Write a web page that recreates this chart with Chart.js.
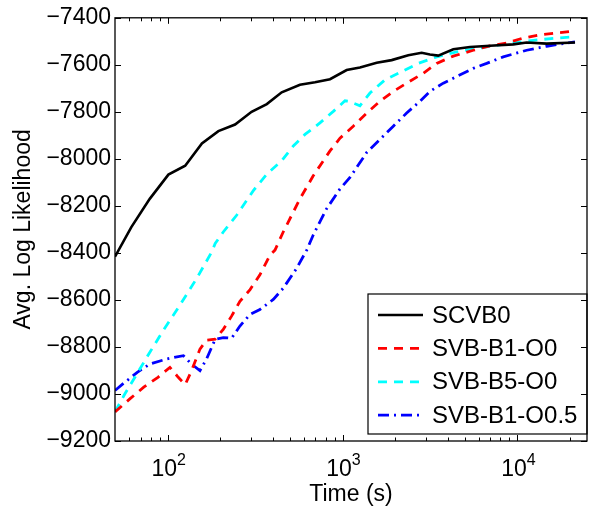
<!DOCTYPE html>
<html>
<head>
<meta charset="utf-8">
<script src="https://cdn.jsdelivr.net/npm/chart.js@4.4.1/dist/chart.umd.min.js"></script>
<style>
html,body{margin:0;padding:0;background:#ffffff;}
#wrap{width:594px;height:508px;}
</style>
</head>
<body>
<div id="wrap"><canvas id="c" width="594" height="508"></canvas></div>
<script>
// ---- data ----
const seriesLabels = ['SCVB0', 'SVB-B1-O0', 'SVB-B5-O0', 'SVB-B1-O0.5'];

const scvb0Time = [50, 62, 79, 101, 126, 157, 195, 243, 302, 369, 449, 571, 696, 848, 1056, 1258, 1568, 1910, 2377, 2834, 3162, 3526, 4299, 5355, 6966, 9468, 11297, 14700, 21340];
const scvb0LL   = [-8416, -8290, -8170, -8067, -8029, -7934, -7882, -7854, -7800, -7767, -7717, -7685, -7674, -7661, -7622, -7611, -7591, -7580, -7559, -7549, -7556, -7561, -7534, -7524, -7519, -7513, -7505, -7510, -7505];

const svbB1O0Time = [50, 61, 73, 88, 103, 115, 126, 137, 153, 167, 187, 208, 232, 259, 296, 337, 385, 411, 458, 571, 680, 848, 967, 1152, 1375, 1637, 1951, 2327, 2895, 3454, 4299, 5594, 6966, 8680, 10800, 13460, 16765, 21340];
const svbB1O0LL   = [-9076, -9020, -8971, -8929, -8887, -8929, -8960, -8901, -8809, -8771, -8767, -8725, -8669, -8606, -8556, -8493, -8409, -8388, -8311, -8170, -8072, -7966, -7912, -7861, -7805, -7755, -7713, -7678, -7636, -7594, -7563, -7538, -7519, -7507, -7486, -7472, -7465, -7456];

const svbB5O0Time = [50, 57, 65, 78, 94, 118, 147, 179, 187, 208, 248, 309, 369, 449, 523, 610, 743, 886, 1033, 1088, 1258, 1435, 1749, 2179, 2711, 3454, 4494, 6378, 8680, 12325, 16765, 21340];
const svbB5O0LL   = [-9076, -8999, -8929, -8830, -8732, -8620, -8507, -8395, -8360, -8311, -8240, -8135, -8065, -8008, -7945, -7896, -7847, -7798, -7753, -7755, -7774, -7720, -7664, -7629, -7594, -7566, -7545, -7526, -7510, -7496, -7486, -7481];

const svbB1O05Time = [50, 57, 67, 79, 99, 123, 137, 153, 167, 187, 208, 232, 259, 296, 337, 402, 458, 547, 624, 680, 811, 967, 1103, 1375, 1637, 1951, 2327, 2771, 3162, 3769, 4494, 5594, 6671, 8300, 11297, 14700, 21340];
const svbB1O05LL   = [-8985, -8950, -8908, -8873, -8851, -8837, -8873, -8901, -8851, -8767, -8760, -8763, -8711, -8662, -8641, -8598, -8550, -8465, -8388, -8324, -8212, -8128, -8079, -7973, -7917, -7861, -7805, -7755, -7713, -7678, -7650, -7615, -7594, -7566, -7538, -7521, -7502];

const yTickValues = [-9200, -9000, -8800, -8600, -8400, -8200, -8000, -7800, -7600, -7400];
const xMajorTicks = [100, 1000, 10000];
const xMinorTicks = [60, 70, 80, 90, 200, 300, 400, 500, 600, 700, 800, 900, 2000, 3000, 4000, 5000, 6000, 7000, 8000, 9000, 20000];

const FONT = 'Liberation Sans, Arial, Helvetica, sans-serif';

function pts(ts, vs) { return ts.map((t, i) => ({x: t, y: vs[i]})); }

const datasets = [
  {label: seriesLabels[0], data: pts(scvb0Time, scvb0LL), borderColor: '#000000', borderWidth: 2.6, borderDash: []},
  {label: seriesLabels[1], data: pts(svbB1O0Time, svbB1O0LL), borderColor: '#ff0000', borderWidth: 2.8, borderDash: [9, 7]},
  {label: seriesLabels[2], data: pts(svbB5O0Time, svbB5O0LL), borderColor: '#00ffff', borderWidth: 2.8, borderDash: [9, 7]},
  {label: seriesLabels[3], data: pts(svbB1O05Time, svbB1O05LL), borderColor: '#0000ff', borderWidth: 2.8, borderDash: [11, 5, 2, 5]}
].map(d => Object.assign(d, {fill: false, pointRadius: 0, pointHoverRadius: 0, tension: 0, backgroundColor: d.borderColor}));

const matlabAxes = {
  id: 'matlabAxes',
  afterDatasetsDraw(chart) {
    const {ctx, chartArea: a, scales: {x, y}} = chart;
    ctx.save();
    // legend box
    const lw = 219, lh = 140;
    const lx = a.right - lw, ly = a.bottom - 7 - lh;
    ctx.fillStyle = '#ffffff';
    ctx.fillRect(lx, ly, lw, lh);
    ctx.strokeStyle = '#000000';
    ctx.lineWidth = 1.2;
    ctx.setLineDash([]);
    ctx.strokeRect(lx, ly, lw, lh);
    chart.data.datasets.forEach((ds, i) => {
      const ry = ly + 21 + i * 33.4;
      ctx.beginPath();
      ctx.strokeStyle = ds.borderColor;
      ctx.lineWidth = ds.borderWidth;
      ctx.setLineDash(ds.borderDash || []);
      ctx.moveTo(lx + 10, ry);
      ctx.lineTo(lx + 55, ry);
      ctx.stroke();
      ctx.setLineDash([]);
      ctx.fillStyle = '#000000';
      ctx.font = '24px ' + FONT;
      ctx.textAlign = 'left';
      ctx.textBaseline = 'middle';
      ctx.fillText(ds.label, lx + 64, ry + 1);
    });

    // ticks (inward, on all four sides)
    ctx.strokeStyle = '#000000';
    ctx.lineWidth = 1;
    ctx.setLineDash([]);
    ctx.beginPath();
    yTickValues.forEach(v => {
      const py = Math.round(y.getPixelForValue(v)) + 0.5;
      ctx.moveTo(a.left, py); ctx.lineTo(a.left + 6, py);
      ctx.moveTo(a.right, py); ctx.lineTo(a.right - 6, py);
    });
    xMajorTicks.forEach(v => {
      const px = Math.round(x.getPixelForValue(v)) + 0.5;
      ctx.moveTo(px, a.bottom); ctx.lineTo(px, a.bottom - 6);
      ctx.moveTo(px, a.top); ctx.lineTo(px, a.top + 6);
    });
    xMinorTicks.forEach(v => {
      const px = Math.round(x.getPixelForValue(v)) + 0.5;
      ctx.moveTo(px, a.bottom); ctx.lineTo(px, a.bottom - 3.5);
      ctx.moveTo(px, a.top); ctx.lineTo(px, a.top + 3.5);
    });
    ctx.stroke();

    // axes box
    ctx.lineWidth = 1.3;
    ctx.strokeRect(a.left, a.top, a.right - a.left, a.bottom - a.top);

    // x tick labels 10^n
    ctx.fillStyle = '#000000';
    ctx.textBaseline = 'alphabetic';
    ctx.textAlign = 'left';
    xMajorTicks.forEach(v => {
      const px = x.getPixelForValue(v);
      const base = '10', exp = String(Math.round(Math.log10(v)));
      ctx.font = '23px ' + FONT;
      const w1 = ctx.measureText(base).width;
      ctx.font = '16px ' + FONT;
      const w2 = ctx.measureText(exp).width;
      const sx = px - (w1 + w2) / 2 + 1;
      ctx.font = '23px ' + FONT;
      ctx.fillText(base, sx, a.bottom + 35);
      ctx.font = '16px ' + FONT;
      ctx.fillText(exp, sx + w1, a.bottom + 24);
    });
    ctx.restore();
  }
};

new Chart(document.getElementById('c'), {
  type: 'line',
  data: {datasets},
  plugins: [matlabAxes],
  options: {
    responsive: false,
    devicePixelRatio: 1,
    animation: false,
    events: [],
    layout: {padding: {left: 0, right: 7, top: 14, bottom: 0}},
    plugins: {legend: {display: false}, tooltip: {enabled: false}},
    scales: {
      x: {
        type: 'logarithmic',
        min: 50,
        max: 25000,
        ticks: {display: false},
        grid: {display: false},
        border: {display: false},
        title: {display: true, text: 'Time (s)', color: '#000000', font: {family: FONT, size: 23}, padding: {top: 0, bottom: 0}},
        afterFit(s) { s.height = 67; }
      },
      y: {
        type: 'linear',
        min: -9200,
        max: -7400,
        afterBuildTicks(s) { s.ticks = yTickValues.map(v => ({value: v})); },
        ticks: {
          color: '#000000',
          font: {family: FONT, size: 23},
          padding: 4,
          callback: v => String(v).replace('-', '\u2212')
        },
        grid: {display: false, drawTicks: false},
        border: {display: false},
        title: {display: true, text: 'Avg. Log Likelihood', color: '#000000', font: {family: FONT, size: 23}, padding: {top: 10, bottom: 0}},
        afterFit(s) { s.width = 115; }
      }
    }
  }
});
</script>
</body>
</html>
